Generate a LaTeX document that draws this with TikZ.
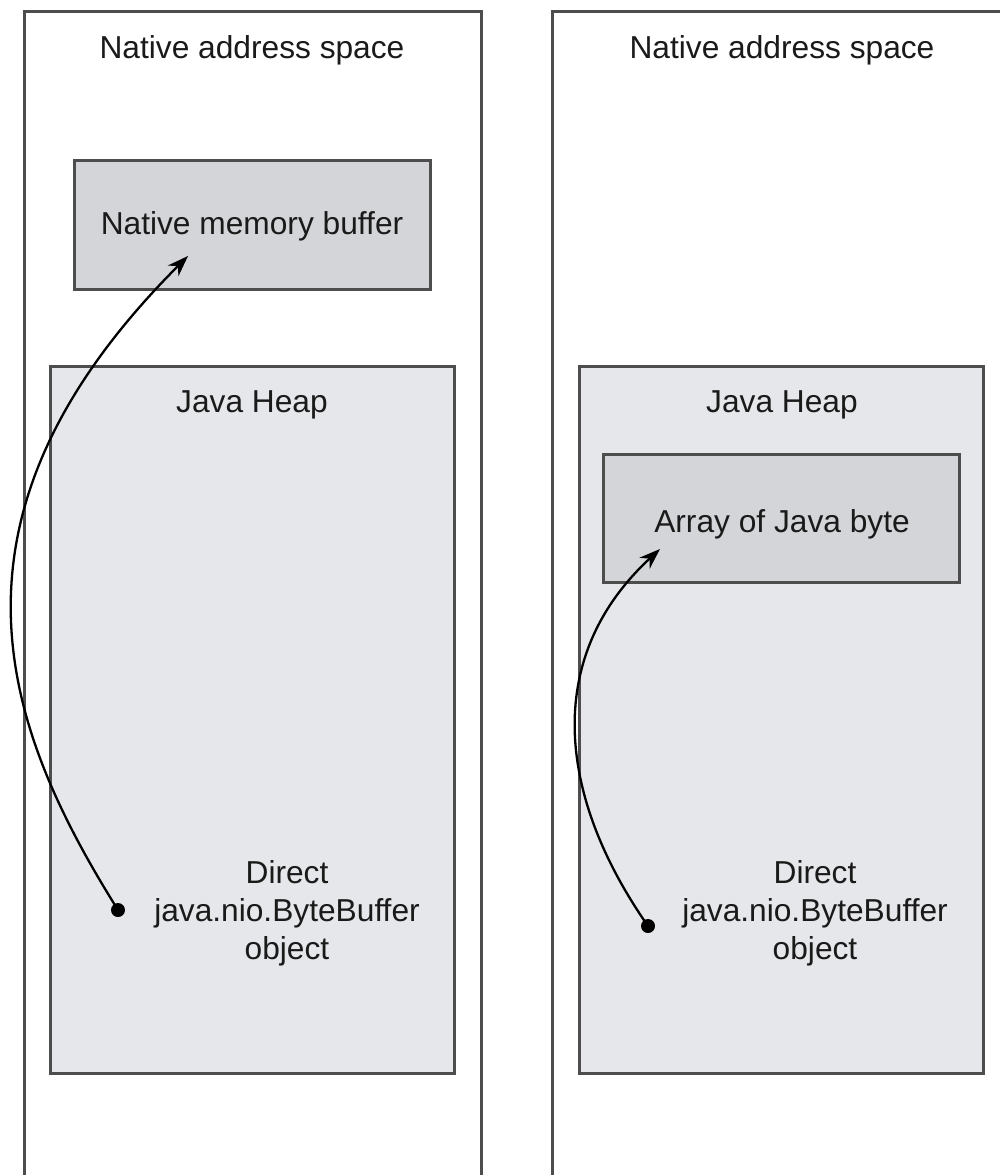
\documentclass[tikz,border=0pt]{standalone}
\usepackage{fontspec}
\setmainfont{Liberation Sans}
\usetikzlibrary{arrows.meta}
\definecolor{edgegray}{HTML}{4D4D4D}
\definecolor{heapfill}{HTML}{E6E7EA}
\definecolor{buffill}{HTML}{D4D5D8}
\definecolor{txt}{HTML}{1A1A1A}
\tikzset{
  outerbox/.style={draw=edgegray, line width=3pt, fill=white},
  heapbox/.style={draw=edgegray, line width=3pt, fill=heapfill, inner sep=0pt},
  bufbox/.style={draw=edgegray, line width=3pt, fill=buffill, inner sep=0pt},
  lbl/.style={text=txt, font=\fontsize{31.7}{38}\selectfont, inner sep=0pt, align=center},
  dotnode/.style={circle, fill=black, inner sep=0pt, minimum size=14pt},
  refarrow/.style={line width=2.3pt, black, -{Stealth[length=21pt,width=15pt]}}
}
\begin{document}
\begin{tikzpicture}[x=1pt,y=-1pt]
\clip (0,0) rectangle (1000,1175);
\fill[white] (0,0) rectangle (1000,1175);
% outer boxes
\draw[outerbox] (24,11) rectangle (481,1190);
\draw[outerbox] (552,11) rectangle (1015,1190);
\node[lbl] (natL) at (252,50) {Native address space};
\node[lbl] (natR) at (782,50) {Native address space};
% left side
\node[bufbox, minimum width=356pt, minimum height=129pt] (nmb) at (252,224.5) {};
\node[lbl] (nmbt) at (252,226) {Native memory buffer};
\node[heapbox, minimum width=404pt, minimum height=707pt] (heapL) at (252,720) {};
\node[lbl] (heapLt) at (252,405) {Java Heap};
\node[lbl] (bbL) at (287,913) {Direct\\java.nio.ByteBuffer\\object};
\node[dotnode] (dotL) at (118,910) {};
\coordinate (tipL) at (188,256);
% right side
\node[heapbox, minimum width=404pt, minimum height=707pt] (heapR) at (781,720) {};
\node[lbl] (heapRt) at (782,405) {Java Heap};
\node[bufbox, minimum width=356pt, minimum height=128pt] (arr) at (781,518) {};
\node[lbl] (arrt) at (782,524) {Array of Java byte};
\node[lbl] (bbR) at (815,913) {Direct\\java.nio.ByteBuffer\\object};
\node[dotnode] (dotR) at (648,926) {};
\coordinate (tipR) at (660,549);
% arrows
\draw[refarrow] (dotL.center) .. controls (6,731) and (-76,520) .. (tipL);
\draw[refarrow] (dotR.center) .. controls (560,800) and (540,660) .. (tipR);
\end{tikzpicture}
\end{document}
